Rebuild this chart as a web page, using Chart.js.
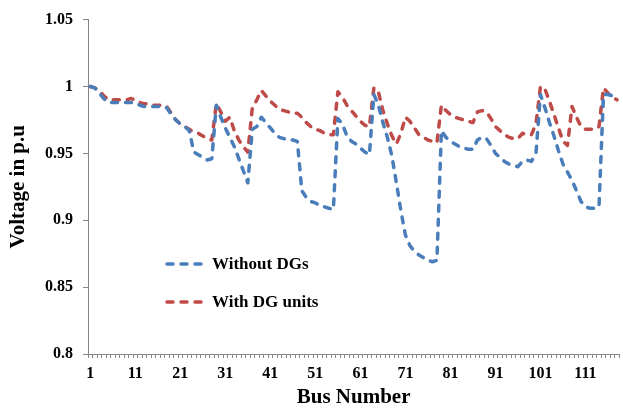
<!DOCTYPE html>
<html>
<head>
<meta charset="utf-8">
<script src="https://cdn.jsdelivr.net/npm/chart.js@4.4.1/dist/chart.umd.min.js"></script>
<style>
  html, body { margin: 0; padding: 0; background: #ffffff; }
  #wrap { width: 623px; height: 408px; position: relative; }
</style>
</head>
<body>
<div id="wrap"><canvas id="chart" width="623" height="408"></canvas></div>
<script>
// Bus numbers of the 118-bus feeder
const busNumbers = Array.from({ length: 118 }, (_, i) => String(i + 1));

// Labels printed under the axis
const tickLabels = ['1', '11', '21', '31', '41', '51', '61', '71', '81', '91', '101', '111'];

// Bus voltages (p.u.) without distributed generation
const voltageWithoutDG = [
  1.000, 0.999, 0.995, 0.991, 0.988, 0.988, 0.988, 0.988, 0.988, 0.988,
  0.988, 0.986, 0.985, 0.985, 0.985, 0.985, 0.985, 0.984, 0.979, 0.975,
  0.972, 0.970, 0.967, 0.951, 0.949, 0.947, 0.945, 0.946, 0.986, 0.977,
  0.969, 0.962, 0.955, 0.946, 0.937, 0.928, 0.968, 0.970, 0.977, 0.973,
  0.969, 0.965, 0.962, 0.961, 0.960, 0.960, 0.959, 0.922, 0.917, 0.914,
  0.913, 0.911, 0.910, 0.909, 0.908, 0.976, 0.972, 0.963, 0.959, 0.957,
  0.954, 0.951, 0.949, 0.994, 0.986, 0.973, 0.962, 0.948, 0.928, 0.907,
  0.889, 0.881, 0.877, 0.874, 0.872, 0.870, 0.869, 0.870, 0.967, 0.962,
  0.959, 0.957, 0.955, 0.954, 0.953, 0.953, 0.960, 0.962, 0.961, 0.956,
  0.950, 0.947, 0.944, 0.942, 0.941, 0.940, 0.944, 0.945, 0.944, 0.950,
  0.994, 0.984, 0.973, 0.963, 0.952, 0.942, 0.936, 0.930, 0.922, 0.914,
  0.910, 0.909, 0.909, 0.910, 0.994, 0.994, 0.993, 0.992
];

// Bus voltages (p.u.) with DG units connected
const voltageWithDG = [
  1.000, 0.999, 0.997, 0.993, 0.990, 0.990, 0.990, 0.990, 0.990, 0.991,
  0.990, 0.988, 0.987, 0.987, 0.986, 0.986, 0.986, 0.985, 0.980, 0.975,
  0.972, 0.970, 0.968, 0.966, 0.965, 0.963, 0.961, 0.960, 0.987, 0.981,
  0.974, 0.977, 0.967, 0.960, 0.955, 0.951, 0.984, 0.990, 0.997, 0.993,
  0.989, 0.986, 0.983, 0.982, 0.981, 0.980, 0.980, 0.977, 0.973, 0.970,
  0.968, 0.967, 0.965, 0.964, 0.964, 0.996, 0.992, 0.986, 0.982, 0.978,
  0.974, 0.971, 0.970, 0.999, 0.996, 0.982, 0.972, 0.963, 0.957, 0.965,
  0.977, 0.974, 0.969, 0.964, 0.962, 0.960, 0.959, 0.958, 0.986, 0.982,
  0.979, 0.977, 0.976, 0.975, 0.974, 0.973, 0.981, 0.982, 0.981, 0.976,
  0.970, 0.967, 0.964, 0.962, 0.961, 0.961, 0.965, 0.964, 0.964, 0.972,
  1.000, 0.998, 0.989, 0.979, 0.969, 0.959, 0.956, 0.985, 0.977, 0.970,
  0.968, 0.968, 0.968, 0.970, 0.999, 0.995, 0.992, 0.990
];

const seriesNames = ['Without DGs', 'With DG units'];
const seriesColors = ['#4A7EBB', '#BE4B48'];

const SERIF = '"Liberation Serif", "Times New Roman", serif';
const AXIS_GREY = '#868686';
const DASH = [6, 8];

// Legend drawn inside the plot area, below the curves
const insideLegend = {
  id: 'insideLegend',
  afterDraw(chart) {
    const ctx = chart.ctx;
    const x0 = 165, x1 = 202, textX = 212;
    const rows = [264, 302];
    ctx.save();
    chart.data.datasets.forEach((ds, i) => {
      const y = rows[i];
      ctx.beginPath();
      ctx.setLineDash(DASH);
      ctx.lineCap = 'round';
      ctx.lineWidth = 3.5;
      ctx.strokeStyle = ds.borderColor;
      ctx.moveTo(x0 + 2, y);
      ctx.lineTo(x1, y);
      ctx.stroke();
      ctx.setLineDash([]);
      ctx.fillStyle = '#000';
      ctx.font = 'bold 17px ' + SERIF;
      ctx.textBaseline = 'middle';
      ctx.textAlign = 'left';
      ctx.fillText(ds.label, textX, y + 1);
    });
    ctx.restore();
  }
};

new Chart(document.getElementById('chart'), {
  type: 'line',
  data: {
    labels: busNumbers,
    datasets: [
      {
        label: seriesNames[0],
        data: voltageWithoutDG,
        borderColor: seriesColors[0],
        backgroundColor: seriesColors[0],
        borderWidth: 3.5,
        borderDash: DASH,
        borderCapStyle: 'round',
        borderJoinStyle: 'round',
        pointRadius: 0,
        tension: 0,
        fill: false
      },
      {
        label: seriesNames[1],
        data: voltageWithDG,
        borderColor: seriesColors[1],
        backgroundColor: seriesColors[1],
        borderWidth: 3.5,
        borderDash: DASH,
        borderCapStyle: 'round',
        borderJoinStyle: 'round',
        pointRadius: 0,
        tension: 0,
        fill: false
      }
    ]
  },
  options: {
    responsive: false,
    animation: false,
    devicePixelRatio: 1,
    layout: { padding: { top: 18, right: 0, bottom: 0, left: 0 } },
    plugins: {
      legend: { display: false },
      tooltip: { enabled: false }
    },
    scales: {
      x: {
        type: 'category',
        offset: true,
        afterFit(scale) { scale.height = 54; },
        border: { display: true, color: AXIS_GREY, width: 1 },
        grid: {
          display: true,
          offset: true,
          drawOnChartArea: false,
          drawTicks: true,
          tickLength: 4,
          color: AXIS_GREY
        },
        ticks: {
          autoSkip: false,
          maxRotation: 0,
          minRotation: 0,
          padding: 6,
          color: '#000',
          font: { family: SERIF, size: 16, weight: 'bold' },
          callback(value) {
            const lbl = this.getLabelForValue(value);
            return tickLabels.includes(lbl) ? lbl : '';
          }
        },
        title: {
          display: true,
          text: 'Bus Number',
          color: '#000',
          font: { family: SERIF, size: 21, weight: 'bold', lineHeight: 1 },
          padding: { top: 0, bottom: 0 }
        }
      },
      y: {
        min: 0.8,
        max: 1.05,
        afterFit(scale) { scale.width = 88; },
        border: { display: true, color: AXIS_GREY, width: 1 },
        grid: {
          display: true,
          drawOnChartArea: false,
          drawTicks: true,
          tickLength: 5,
          color: AXIS_GREY
        },
        ticks: {
          stepSize: 0.05,
          padding: 10,
          color: '#000',
          font: { family: SERIF, size: 16, weight: 'bold' },
          callback(value) { return String(Number(value.toFixed(2))); }
        },
        title: {
          display: true,
          text: 'Voltage in p.u',
          color: '#000',
          font: { family: SERIF, size: 21, weight: 'bold', lineHeight: 1.2 },
          padding: { top: 6, bottom: 0 }
        }
      }
    }
  },
  plugins: [insideLegend]
});
</script>
</body>
</html>
